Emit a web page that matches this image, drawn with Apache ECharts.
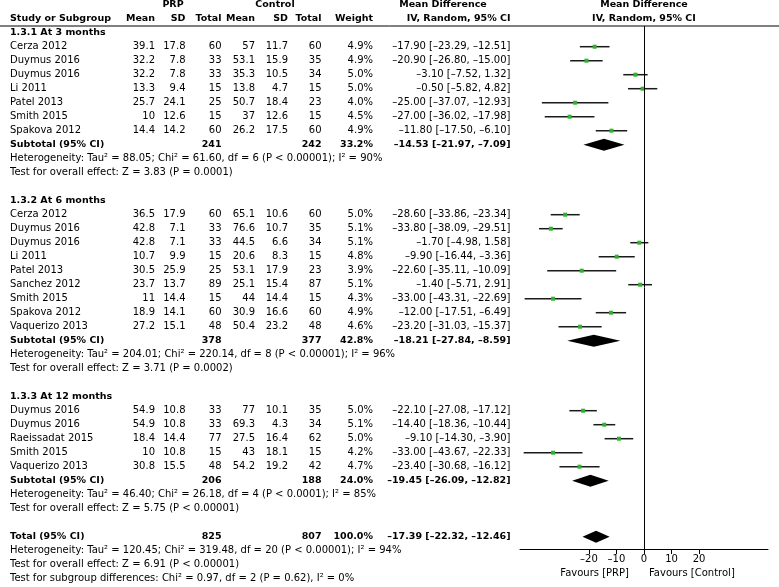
<!DOCTYPE html>
<html><head><meta charset="utf-8">
<script src="https://cdn.jsdelivr.net/npm/echarts@6/dist/echarts.min.js"></script>
<style>html,body{margin:0;padding:0;background:#fff}#c{width:779px;height:587px}</style>
</head><body><div id="c"></div>
<script>
// ---------------- DATA ----------------
const groupTitles = ['1.3.1 At 3 months', '1.3.2 At 6 months', '1.3.3 At 12 months'];
const studyGroup = [0,0,0,0,0,0,0, 1,1,1,1,1,1,1,1,1, 2,2,2,2,2];
const studyNames = [
  'Cerza 2012','Duymus 2016','Duymus 2016','Li 2011','Patel 2013','Smith 2015','Spakova 2012',
  'Cerza 2012','Duymus 2016','Duymus 2016','Li 2011','Patel 2013','Sanchez 2012','Smith 2015','Spakova 2012','Vaquerizo 2013',
  'Duymus 2016','Duymus 2016','Raeissadat 2015','Smith 2015','Vaquerizo 2013'
];
const prpMean  = [39.1,32.2,32.2,13.3,25.7,10,14.4, 36.5,42.8,42.8,10.7,30.5,23.7,11,18.9,27.2, 54.9,54.9,18.4,10,30.8];
const prpSD    = [17.8,7.8,7.8,9.4,24.1,12.6,14.2, 17.9,7.1,7.1,9.9,25.9,13.7,14.4,14.1,15.1, 10.8,10.8,14.4,10.8,15.5];
const prpTotal = [60,33,33,15,25,15,60, 60,33,33,15,25,89,15,60,48, 33,33,77,15,48];
const ctlMean  = [57,53.1,35.3,13.8,50.7,37,26.2, 65.1,76.6,44.5,20.6,53.1,25.1,44,30.9,50.4, 77,69.3,27.5,43,54.2];
const ctlSD    = [11.7,15.9,10.5,4.7,18.4,12.6,17.5, 10.6,10.7,6.6,8.3,17.9,15.4,14.4,16.6,23.2, 10.1,4.3,16.4,18.1,19.2];
const ctlTotal = [60,35,34,15,23,15,60, 60,35,34,15,23,87,15,60,48, 35,34,62,15,42];
const weights  = [4.9,4.9,5.0,5.0,4.0,4.5,4.9, 5.0,5.1,5.1,4.8,3.9,5.1,4.3,4.9,4.6, 5.0,5.1,5.0,4.2,4.7];
const mdMean   = [-17.90,-20.90,-3.10,-0.50,-25.00,-27.00,-11.80, -28.60,-33.80,-1.70,-9.90,-22.60,-1.40,-33.00,-12.00,-23.20, -22.10,-14.40,-9.10,-33.00,-23.40];
const mdLo     = [-23.29,-26.80,-7.52,-5.82,-37.07,-36.02,-17.50, -33.86,-38.09,-4.98,-16.44,-35.11,-5.71,-43.31,-17.51,-31.03, -27.08,-18.36,-14.30,-43.67,-30.68];
const mdHi     = [-12.51,-15.00,1.32,4.82,-12.93,-17.98,-6.10, -23.34,-29.51,1.58,-3.36,-10.09,2.91,-22.69,-6.49,-15.37, -17.12,-10.44,-3.90,-22.33,-16.12];

const subPrpTotal = [241, 378, 206];
const subCtlTotal = [242, 377, 188];
const subWeight   = [33.2, 42.8, 24.0];
const subMean     = [-14.53, -18.21, -19.45];
const subLo       = [-21.97, -27.84, -26.09];
const subHi       = [-7.09, -8.59, -12.82];
const subHet = [
  'Heterogeneity: Tau\u00b2 = 88.05; Chi\u00b2 = 61.60, df = 6 (P < 0.00001); I\u00b2 = 90%',
  'Heterogeneity: Tau\u00b2 = 204.01; Chi\u00b2 = 220.14, df = 8 (P < 0.00001); I\u00b2 = 96%',
  'Heterogeneity: Tau\u00b2 = 46.40; Chi\u00b2 = 26.18, df = 4 (P < 0.0001); I\u00b2 = 85%'
];
const subTest = [
  'Test for overall effect: Z = 3.83 (P = 0.0001)',
  'Test for overall effect: Z = 3.71 (P = 0.0002)',
  'Test for overall effect: Z = 5.75 (P < 0.00001)'
];
const totalRow = [825, 807, 100.0, -17.39, -22.32, -12.46]; // prpTotal, ctlTotal, weight, mean, lo, hi
const totalNotes = [
  'Heterogeneity: Tau\u00b2 = 120.45; Chi\u00b2 = 319.48, df = 20 (P < 0.00001); I\u00b2 = 94%',
  'Test for overall effect: Z = 6.91 (P < 0.00001)',
  'Test for subgroup differences: Chi\u00b2 = 0.97, df = 2 (P = 0.62), I\u00b2 = 0%'
];
const xTicks = [-20, -10, 0, 10, 20];
const favoursLabels = ['Favours [PRP]', 'Favours [Control]'];
const headerTop = ['PRP', 'Control', 'Mean Difference', 'Mean Difference'];
const headerBottom = ['Study or Subgroup', 'Mean', 'SD', 'Total', 'Mean', 'SD', 'Total', 'Weight', 'IV, Random, 95% CI', 'IV, Random, 95% CI'];

// ---------------- LAYOUT ----------------
const W = 779, H = 587;
const Y0 = 18.7, ROW_H = 14;          // pixel y of row 0 and row height
const AXIS_Y = 549, RULE_Y = 26;
const COL = {name: 10, pm: 155, psd: 185.5, pt: 221.5, cm: 255, csd: 288, ct: 321.5, w: 373, md: 510.5};
const FONT = '"DejaVu Sans", sans-serif';

const dash = s => String(s).replace(/-/g, '\u2013');
const fmtMD = (m, lo, hi) => dash(m.toFixed(2)) + ' [' + dash(lo.toFixed(2)) + ', ' + dash(hi.toFixed(2)) + ']';
const fmtW = w => w.toFixed(1) + '%';

const cells = [];
const marks = [];
const diamonds = [];
function cell(x, row, text, align, bold) { cells.push({x, row, text, align: align || 'left', bold: !!bold}); }

// headers
cell(173, -1, headerTop[0], 'center', true);
cell(275, -1, headerTop[1], 'center', true);
cell(443, -1, headerTop[2], 'center', true);
cell(644, -1, headerTop[3], 'center', true);
cell(COL.name, 0, headerBottom[0], 'left', true);
cell(COL.pm, 0, headerBottom[1], 'right', true);
cell(COL.psd, 0, headerBottom[2], 'right', true);
cell(COL.pt, 0, headerBottom[3], 'right', true);
cell(COL.cm, 0, headerBottom[4], 'right', true);
cell(COL.csd, 0, headerBottom[5], 'right', true);
cell(COL.ct, 0, headerBottom[6], 'right', true);
cell(COL.w, 0, headerBottom[7], 'right', true);
cell(COL.md, 0, headerBottom[8], 'right', true);
cell(644, 0, headerBottom[9], 'center', true);

let r = 1;
for (let g = 0; g < groupTitles.length; g++) {
  cell(COL.name, r, groupTitles[g], 'left', true); r++;
  for (let i = 0; i < studyNames.length; i++) {
    if (studyGroup[i] !== g) continue;
    cell(COL.name, r, studyNames[i]);
    cell(COL.pm, r, String(prpMean[i]), 'right');
    cell(COL.psd, r, String(prpSD[i]), 'right');
    cell(COL.pt, r, String(prpTotal[i]), 'right');
    cell(COL.cm, r, String(ctlMean[i]), 'right');
    cell(COL.csd, r, String(ctlSD[i]), 'right');
    cell(COL.ct, r, String(ctlTotal[i]), 'right');
    cell(COL.w, r, fmtW(weights[i]), 'right');
    cell(COL.md, r, fmtMD(mdMean[i], mdLo[i], mdHi[i]), 'right');
    marks.push([mdMean[i], mdLo[i], mdHi[i], r]);
    r++;
  }
  cell(COL.name, r, 'Subtotal (95% CI)', 'left', true);
  cell(COL.pt, r, String(subPrpTotal[g]), 'right', true);
  cell(COL.ct, r, String(subCtlTotal[g]), 'right', true);
  cell(COL.w, r, fmtW(subWeight[g]), 'right', true);
  cell(COL.md, r, fmtMD(subMean[g], subLo[g], subHi[g]), 'right', true);
  diamonds.push([subMean[g], subLo[g], subHi[g], r]);
  r++;
  cell(COL.name, r, subHet[g]); r++;
  cell(COL.name, r, subTest[g]); r++;
  r++;
}
cell(COL.name, r, 'Total (95% CI)', 'left', true);
cell(COL.pt, r, String(totalRow[0]), 'right', true);
cell(COL.ct, r, String(totalRow[1]), 'right', true);
cell(COL.w, r, fmtW(totalRow[2]), 'right', true);
cell(COL.md, r, fmtMD(totalRow[3], totalRow[4], totalRow[5]), 'right', true);
diamonds.push([totalRow[3], totalRow[4], totalRow[5], r]);
r++;
totalNotes.forEach(t => { cell(COL.name, r, t); r++; });

const favRow = (573 - Y0) / ROW_H;
cell(629, favRow, favoursLabels[0], 'right');
cell(649, favRow, favoursLabels[1], 'left');

// ---------------- CHART ----------------
const chart = echarts.init(document.getElementById('c'), null, {renderer: 'canvas'});
const option = {
  animation: false,
  backgroundColor: '#fff',
  grid: [
    {left: 520, right: W - 768, top: RULE_Y, bottom: H - AXIS_Y, containLabel: false, outerBoundsMode: 'none'},
    {left: 0, right: 0, top: 0, bottom: 0, containLabel: false, outerBoundsMode: 'none'}
  ],
  xAxis: [
    {gridIndex: 0, type: 'value', min: -45, max: 45,
     axisLine: {show: true, onZero: false, lineStyle: {color: '#000', width: 1}},
     axisTick: {show: true, customValues: xTicks, length: 5, lineStyle: {color: '#000', width: 1}},
     axisLabel: {show: true, customValues: xTicks, formatter: v => dash(v), color: '#000', fontSize: 10, fontFamily: FONT, margin: 5},
     splitLine: {show: false}},
    {gridIndex: 1, type: 'value', min: 0, max: W, show: false}
  ],
  yAxis: [
    {gridIndex: 0, type: 'value', inverse: true, min: (RULE_Y - Y0) / ROW_H, max: (AXIS_Y - Y0) / ROW_H, show: false},
    {gridIndex: 1, type: 'value', inverse: true, min: -Y0 / ROW_H, max: (H - Y0) / ROW_H, show: false}
  ],
  series: [
    { // header rule
      type: 'custom', xAxisIndex: 1, yAxisIndex: 1, silent: true,
      data: [[0, W, (RULE_Y - Y0) / ROW_H]],
      renderItem: (p, api) => {
        const a = api.coord([api.value(0), api.value(2)]);
        const b = api.coord([api.value(1), api.value(2)]);
        return {type: 'line', shape: {x1: a[0], y1: a[1], x2: b[0], y2: b[1]}, style: {stroke: '#000', lineWidth: 1}};
      }
    },
    { // table text
      type: 'custom', xAxisIndex: 1, yAxisIndex: 1, silent: true,
      data: cells.map(c => [c.x, c.row]),
      renderItem: (p, api) => {
        const c = cells[p.dataIndex];
        const pt = api.coord([c.x, c.row]);
        return {type: 'text', x: pt[0], y: pt[1], style: {
          text: c.text, fill: '#000',
          font: (c.bold ? 'bold 9.5px ' : '10px ') + FONT,
          align: c.align, verticalAlign: 'middle', textAlign: c.align, textVerticalAlign: 'middle'}};
      }
    },
    { // study CIs and points
      type: 'custom', xAxisIndex: 0, yAxisIndex: 0, silent: true,
      data: marks,
      encode: {x: [0, 1, 2], y: 3},
      renderItem: (p, api) => {
        const row = api.value(3);
        const m = api.coord([api.value(0), row]);
        const lo = api.coord([api.value(1), row]);
        const hi = api.coord([api.value(2), row]);
        return {type: 'group', children: [
          {type: 'line', shape: {x1: lo[0], y1: lo[1], x2: hi[0], y2: hi[1]}, style: {stroke: '#1a1a1a', lineWidth: 1.5}},
          {type: 'rect', shape: {x: m[0] - 2, y: m[1] - 2, width: 4, height: 4}, style: {fill: '#2db32d'}}
        ]};
      },
      markLine: {symbol: 'none', silent: true, label: {show: false},
        lineStyle: {color: '#000', width: 1, type: 'solid'}, data: [{xAxis: 0}]}
    },
    { // diamonds
      type: 'custom', xAxisIndex: 0, yAxisIndex: 0, silent: true,
      data: diamonds,
      encode: {x: [0, 1, 2], y: 3},
      renderItem: (p, api) => {
        const row = api.value(3);
        const m = api.coord([api.value(0), row]);
        const lo = api.coord([api.value(1), row]);
        const hi = api.coord([api.value(2), row]);
        return {type: 'polygon', shape: {points: [[lo[0], lo[1]], [m[0], m[1] - 6], [hi[0], hi[1]], [m[0], m[1] + 6]]},
          style: {fill: '#000'}};
      }
    }
  ]
};
chart.setOption(option);
</script>
</body></html>
